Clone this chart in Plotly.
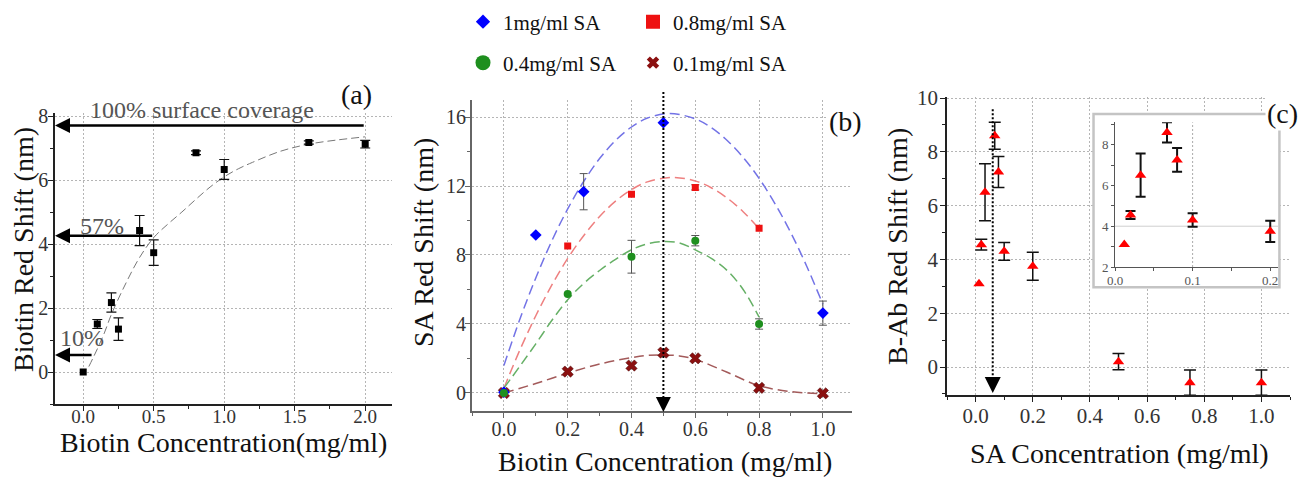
import plotly.graph_objects as go

W, H = 1303, 479
FONT = "Liberation Serif"

# ---------------- Panel (a) data ----------------
a_x = [0, 0.1, 0.2, 0.25, 0.4, 0.5, 0.8, 1.0, 1.6, 2.0]
a_y = [0, 1.5, 2.17, 1.34, 4.42, 3.73, 6.85, 6.33, 7.17, 7.12]
a_err = [0, 0.14, 0.3, 0.35, 0.47, 0.4, 0.06, 0.31, 0.05, 0.12]
a_fit_x = [0.04, 0.1, 0.15, 0.2, 0.3, 0.4, 0.5, 0.6, 0.7, 0.8, 0.9, 1.0, 1.1, 1.2, 1.4, 1.6, 1.8, 2.0]
a_fit_y = [0.17, 0.72, 1.22, 1.8, 2.75, 3.58, 4.2, 4.62, 5.0, 5.4, 5.78, 6.1, 6.35, 6.55, 6.9, 7.12, 7.25, 7.35]
cov_levels = [7.7, 4.26, 0.53]
cov_from_x = [2.0, 0.5, 0.07]
cov_labels = ["100% surface coverage", "57%", "10%"]

# ---------------- Panel (b) data ----------------
b1_x = [0, 0.1, 0.25, 0.5, 1.0]
b1_y = [0.05, 9.16, 11.67, 15.67, 4.63]
b1_err = [0, 0, 1.05, 0, 0.7]
b2_x = [0, 0.2, 0.4, 0.6, 0.8]
b2_y = [0.05, 8.52, 11.52, 11.92, 9.55]
b2_err = [0, 0, 0, 0.15, 0]
b3_x = [0, 0.2, 0.4, 0.6, 0.8]
b3_y = [0.0, 5.74, 7.9, 8.83, 4.0]
b3_err = [0, 0, 0.95, 0.3, 0.3]
b4_x = [0, 0.2, 0.4, 0.5, 0.6, 0.8, 1.0]
b4_y = [0, 1.24, 1.59, 2.34, 2.01, 0.3, -0.02]
b4_err = [0, 0.1, 0, 0.1, 0.1, 0.15, 0]

f1_x = [0, 0.05, 0.1, 0.15, 0.2, 0.25, 0.3, 0.35, 0.4, 0.45, 0.52, 0.6, 0.65, 0.7, 0.75, 0.8, 0.85, 0.9, 0.95, 1.0]
f1_y = [1.6, 4.27, 6.67, 8.81, 10.67, 12.26, 13.59, 14.64, 15.42, 15.94, 16.2, 15.89, 15.39, 14.64, 13.66, 12.44, 10.97, 9.27, 7.32, 5.14]
f2_x = [0, 0.05, 0.1, 0.15, 0.2, 0.25, 0.3, 0.35, 0.4, 0.45, 0.527, 0.6, 0.65, 0.7, 0.75, 0.8]
f2_y = [0.28, 2.49, 4.48, 6.25, 7.8, 9.12, 10.23, 11.12, 11.79, 12.24, 12.5, 12.29, 11.9, 11.3, 10.51, 9.52]
f3_x = [0, 0.05, 0.1, 0.15, 0.2, 0.25, 0.3, 0.35, 0.4, 0.45, 0.5, 0.55, 0.6, 0.65, 0.7, 0.75, 0.8]
f3_y = [0.28, 1.55, 2.85, 4.2, 5.4, 6.35, 7.1, 7.75, 8.3, 8.65, 8.78, 8.7, 8.3, 7.8, 7.1, 6.0, 4.4]
f4_x = [0, 0.1, 0.2, 0.3, 0.4, 0.45, 0.5, 0.55, 0.6, 0.7, 0.8, 0.9, 1.0]
f4_y = [0, 0.55, 1.15, 1.68, 2.05, 2.18, 2.2, 2.15, 1.95, 1.2, 0.42, 0.08, -0.05]

b_names = ["1mg/ml SA", "0.8mg/ml SA", "0.4mg/ml SA", "0.1mg/ml SA"]
b_marker_x = 0.5

# ---------------- Panel (c) data ----------------
c_x = [0.012, 0.02, 0.033, 0.067, 0.08, 0.1, 0.2, 0.5, 0.75, 1.0]
c_y = [3.1, 4.55, 6.5, 8.6, 7.25, 4.3, 3.75, 0.2, -0.58, -0.58]
c_err = [0, 0.2, 1.06, 0.5, 0.58, 0.33, 0.52, 0.3, 0.47, 0.47]
c_marker_x = 0.06


def px(v):
    return v / W


def py(v):
    return 1 - v / H


def err_trace(xs, ys, es, xa, ya, color, thick, width):
    pts = [(x, y, e) for x, y, e in zip(xs, ys, es) if e > 0]
    return go.Scatter(
        x=[p[0] for p in pts], y=[p[1] for p in pts], mode="markers",
        marker=dict(size=1, opacity=0),
        error_y=dict(type="data", array=[p[2] for p in pts], color=color,
                     thickness=thick, width=width),
        showlegend=False, hoverinfo="skip", xaxis=xa, yaxis=ya)


fig = go.Figure()

# ---- (a)
fig.add_trace(go.Scatter(x=a_fit_x, y=a_fit_y, mode="lines", line=dict(color="#777", width=1, dash="8px,4px", shape="spline"),
                         showlegend=False, hoverinfo="skip", xaxis="x", yaxis="y"))
fig.add_trace(err_trace(a_x, a_y, a_err, "x", "y", "#111", 1.2, 5))
fig.add_trace(go.Scatter(x=a_x, y=a_y, mode="markers", marker=dict(symbol="square", size=7, color="#000"),
                         showlegend=False, xaxis="x", yaxis="y"))

# ---- (b)
fit_cols = ["#7373e6", "#ee8080", "#66b066", "#a35a5a"]
for fx, fy, c in [(f1_x, f1_y, fit_cols[0]), (f2_x, f2_y, fit_cols[1]), (f3_x, f3_y, fit_cols[2]), (f4_x, f4_y, fit_cols[3])]:
    fig.add_trace(go.Scatter(x=fx, y=fy, mode="lines", line=dict(color=c, width=1.5, dash="10px,5px", shape="spline"),
                             showlegend=False, hoverinfo="skip", xaxis="x2", yaxis="y2"))

b_series = [
    (b4_x, b4_y, b4_err, dict(symbol="x", size=10, color="#8b1010", line=dict(color="#400", width=0.5))),
    (b2_x, b2_y, b2_err, dict(symbol="square", size=7, color="#ee1111")),
    (b1_x, b1_y, b1_err, dict(symbol="diamond", size=9, color="#0000ff")),
    (b3_x, b3_y, b3_err, dict(symbol="circle", size=8, color="#1e8f1e")),
]
for bx, by, be, mk in b_series:
    fig.add_trace(err_trace(bx, by, be, "x2", "y2", "#555", 1, 4))
    fig.add_trace(go.Scatter(x=bx, y=by, mode="markers", marker=mk, showlegend=False, xaxis="x2", yaxis="y2"))

# legend entries
leg_marks = [
    (b_names[0], dict(symbol="diamond", size=11, color="#0000ff"), "legend"),
    (b_names[1], dict(symbol="square", size=14, color="#ee1111"), "legend"),
    (b_names[2], dict(symbol="circle", size=15, color="#1e8f1e"), "legend2"),
    (b_names[3], dict(symbol="x", size=11, color="#8b1010"), "legend2"),
]
for name, mk, lg in leg_marks:
    fig.add_trace(go.Scatter(x=[None], y=[None], mode="markers", marker=mk, name=name, legend=lg,
                             xaxis="x2", yaxis="y2"))

# ---- (c)
fig.add_trace(err_trace(c_x, c_y, c_err, "x3", "y3", "#111", 1.5, 6))
fig.add_trace(go.Scatter(x=c_x, y=c_y, mode="markers", marker=dict(symbol="triangle-up", size=10, color="#ff0000"),
                         showlegend=False, xaxis="x3", yaxis="y3"))
# inset
fig.add_trace(err_trace(c_x, c_y, c_err, "x4", "y4", "#111", 2, 5))
fig.add_trace(go.Scatter(x=c_x, y=c_y, mode="markers", marker=dict(symbol="triangle-up", size=10, color="#ff0000"),
                         showlegend=False, xaxis="x4", yaxis="y4"))


def axis(domain, rng, dtick, minor, fmt=None, lc="#222", lw=1.5, anchor=None, fs=20, fc="#333", **kw):
    d = dict(domain=domain, range=rng, dtick=dtick, tick0=0, showline=True, linecolor=lc, linewidth=lw,
             ticks="outside", ticklen=5, tickwidth=1.2, tickcolor=lc, showgrid=True, gridcolor="#b5b5b5",
             griddash="2px,2px", gridwidth=1, zeroline=False, automargin=False,
             tickfont=dict(family=FONT, size=fs, color=fc),
             minor=dict(dtick=minor, ticks="outside", ticklen=3, tickcolor=lc, showgrid=False),
             anchor=anchor, fixedrange=True)
    if fmt:
        d["tickformat"] = fmt
    d.update(kw)
    return d


layout = dict(
    template="none",
    width=W, height=H, margin=dict(l=0, r=0, t=0, b=0, pad=0, autoexpand=False),
    paper_bgcolor="white", plot_bgcolor="white",
    font=dict(family=FONT, color="#111"),
    xaxis=axis([px(55), px(392)], [-0.2, 2.19], 0.5, 0.25, ".1f", anchor="y", fs=19, ticklabelstandoff=-11),
    yaxis=axis([py(404), py(112.8)], [-1, 8.1], 2, 1, anchor="x", ticklabelstandoff=-4),
    xaxis2=axis([px(472), px(851.6)], [-0.1, 1.09], 0.2, 0.1, ".1f", lc="#666", lw=2, anchor="y2", ticklabelstandoff=-6),
    yaxis2=axis([py(411.1), py(99.75)], [-1.05, 17], 4, 2, lc="#666", lw=2, anchor="x2", ticklabelstandoff=-5),
    xaxis3=axis([px(947), px(1290)], [-0.1, 1.1], 0.2, 0.1, ".1f", anchor="y3", fs=21, ticklabelstandoff=-4),
    yaxis3=axis([py(395), py(96.7)], [-1.04, 10.05], 2, 1, anchor="x3", fs=21, ticklabelstandoff=-2),
    xaxis4=axis([px(1115), px(1278)], [0, 0.21], 0.1, 0.05, ".1f", lc="#555", lw=1, anchor="y4", showgrid=False,
                ticklen=3, fs=13, fc="#555", ticklabelstandoff=-2),
    yaxis4=axis([py(267), py(122.2)], [2, 9.1], 2, 1, lc="#555", lw=1, anchor="x4", showgrid=False,
                ticklen=3, fs=13, fc="#555"),
    legend=dict(x=px(463), y=py(22), xanchor="left", yanchor="middle", orientation="h",
                entrywidth=125, entrywidthmode="pixels", bgcolor="rgba(0,0,0,0)",
                font=dict(family=FONT, size=21, color="#111"), itemwidth=30),
    legend2=dict(x=px(463), y=py(63), xanchor="left", yanchor="middle", orientation="h",
                 entrywidth=125, entrywidthmode="pixels", bgcolor="rgba(0,0,0,0)",
                 font=dict(family=FONT, size=21, color="#111"), itemwidth=30),
)
fig.update_layout(**layout)

shapes = []
# (b) dotted vertical marker line
shapes.append(dict(type="line", xref="x2", yref="paper", x0=b_marker_x, x1=b_marker_x,
                   y0=py(398), y1=py(90),
                   line=dict(color="black", width=2, dash="2px,2px")))
# (c) dotted vertical marker line
shapes.append(dict(type="line", xref="x3", yref="y3", x0=c_marker_x, x1=c_marker_x, y0=-0.45, y1=9.6,
                   line=dict(color="black", width=2, dash="2px,2px")))
# inset box (white, covers main grid)
shapes.append(dict(type="rect", xref="x3", yref="y3", x0=0.4126, x1=1.063, y0=2.97, y1=9.405,
                   fillcolor="white", line=dict(color="#c4c4c4", width=2.5), layer="between"))
# inset sparse grid
shapes.append(dict(type="line", xref="x4", yref="y4", x0=0, x1=0.21, y0=4, y1=4,
                   line=dict(color="#cfcfcf", width=1), layer="between"))
shapes.append(dict(type="line", xref="x4", yref="y4", x0=0.1, x1=0.1, y0=2, y1=9.1,
                   line=dict(color="#aaaaaa", width=1, dash="2px,2px"), layer="between"))
fig.update_layout(shapes=shapes)

ann = []
# coverage arrows (a)
for lvl, fx in zip(cov_levels, cov_from_x):
    ann.append(dict(x=-0.2, y=lvl, ax=fx, ay=lvl, xref="x", yref="y", axref="x", ayref="y", text="",
                    showarrow=True, arrowhead=2, arrowwidth=2.5, arrowsize=1.2, arrowcolor="black", standoff=0))
cov_pos = [(202, 110), (102, 226), (82, 338)]
for lab, (tx, ty) in zip(cov_labels, cov_pos):
    ann.append(dict(x=px(tx), y=py(ty), xref="paper", yref="paper", text=lab, showarrow=False,
                    xanchor="center", yanchor="middle",
                    font=dict(family=FONT, size=24, color="#555")))
# down arrows (b), (c)
ann.append(dict(x=b_marker_x, y=-1.1, ax=b_marker_x, ay=-0.3, xref="x2", yref="y2", axref="x2", ayref="y2",
                text="", showarrow=True, arrowhead=2, arrowwidth=1.5, arrowsize=2, arrowcolor="black", standoff=0))
ann.append(dict(x=c_marker_x, y=-0.97, ax=c_marker_x, ay=-0.4, xref="x3", yref="y3", axref="x3", ayref="y3",
                text="", showarrow=True, arrowhead=2, arrowwidth=1.6, arrowsize=2, arrowcolor="black", standoff=0))
# panel labels
for lab, (lx, ly) in [("(a)", (356, 95)), ("(b)", (845, 122)), ("(c)", (1282, 113))]:
    ann.append(dict(x=px(lx), y=py(ly), xref="paper", yref="paper", text=lab, showarrow=False,
                    xanchor="center", yanchor="middle",
                    font=dict(family=FONT, size=28, color="#111"), bgcolor="white"))
# axis titles
titles = [
    ("Biotin Red Shift (nm)", 23, 250, -90),
    ("Biotin Concentration(mg/ml)", 223, 442, 0),
    ("SA Red Shift (nm)", 423, 243, -90),
    ("Biotin Concentration (mg/ml)", 665, 461, 0),
    ("B-Ab Red Shift (nm)", 897, 247, -90),
    ("SA Concentration (mg/ml)", 1119, 453, 0),
]
for t, tx, ty, ang in titles:
    ann.append(dict(x=px(tx), y=py(ty), xref="paper", yref="paper", text=t, showarrow=False, textangle=ang,
                    xanchor="center", yanchor="middle",
                    font=dict(family=FONT, size=28, color="#111")))
fig.update_layout(annotations=ann)

fig.write_html("out.html", config={"displayModeBar": False},
               post_script="document.body.style.margin='0px';document.body.style.padding='0px';")
